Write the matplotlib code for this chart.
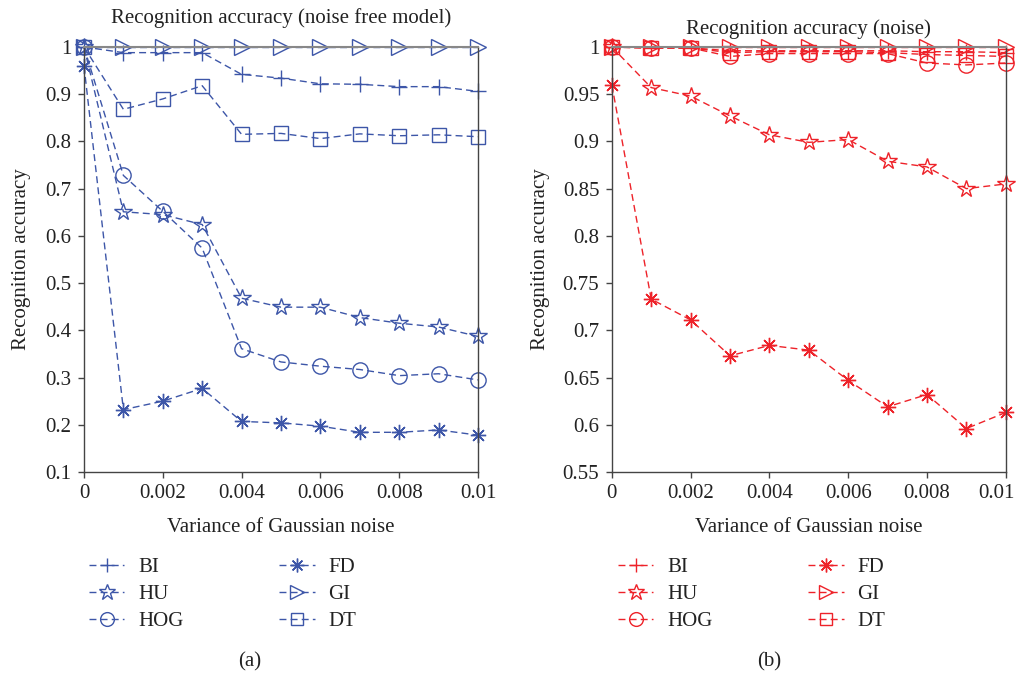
import matplotlib
matplotlib.use("Agg")
import matplotlib.pyplot as plt
import matplotlib.transforms as mtransforms
from matplotlib.lines import Line2D

plt.rcParams['font.family'] = ['Liberation Serif', 'DejaVu Serif']

# Noise variance levels
variance = [0, 0.001, 0.002, 0.003, 0.004, 0.005, 0.006, 0.007, 0.008, 0.009, 0.01]
methods = ["BI", "HU", "HOG", "FD", "GI", "DT"]

# (a) noise-free model
acc_free = {
    "BI":  [1.0, 0.988, 0.988, 0.988, 0.942, 0.934, 0.922, 0.921, 0.916, 0.916, 0.906],
    "HU":  [1.0, 0.651, 0.645, 0.624, 0.468, 0.449, 0.449, 0.427, 0.415, 0.407, 0.387],
    "HOG": [1.0, 0.728, 0.652, 0.574, 0.361, 0.333, 0.324, 0.317, 0.304, 0.308, 0.295],
    "FD":  [0.96, 0.232, 0.250, 0.277, 0.207, 0.204, 0.197, 0.184, 0.184, 0.189, 0.178],
    "GI":  [1.0, 1.0, 1.0, 1.0, 1.0, 1.0, 1.0, 1.0, 1.0, 1.0, 1.0],
    "DT":  [1.0, 0.868, 0.890, 0.918, 0.815, 0.817, 0.806, 0.816, 0.812, 0.814, 0.810],
}

# (b) model trained with noise
acc_noise = {
    "BI":  [1.0, 0.999, 0.999, 0.996, 0.996, 0.996, 0.996, 0.996, 0.995, 0.995, 0.994],
    "HU":  [1.0, 0.957, 0.948, 0.927, 0.907, 0.899, 0.902, 0.879, 0.873, 0.850, 0.855],
    "HOG": [1.0, 0.999, 0.999, 0.990, 0.993, 0.993, 0.993, 0.993, 0.983, 0.981, 0.983],
    "FD":  [0.96, 0.733, 0.711, 0.673, 0.684, 0.679, 0.647, 0.619, 0.632, 0.596, 0.613],
    "GI":  [1.0, 1.0, 1.0, 1.0, 1.0, 1.0, 1.0, 1.0, 1.0, 1.0, 1.0],
    "DT":  [1.0, 0.999, 0.999, 0.994, 0.995, 0.995, 0.995, 0.994, 0.992, 0.991, 0.990],
}

x_ticks = [0, 0.002, 0.004, 0.006, 0.008, 0.01]
x_ticklabels = ["0", "0.002", "0.004", "0.006", "0.008", "0.01"]
y_ticks_a = [0.1, 0.2, 0.3, 0.4, 0.5, 0.6, 0.7, 0.8, 0.9, 1.0]
y_ticklabels_a = ["0.1", "0.2", "0.3", "0.4", "0.5", "0.6", "0.7", "0.8", "0.9", "1"]
y_ticks_b = [0.55, 0.6, 0.65, 0.7, 0.75, 0.8, 0.85, 0.9, 0.95, 1.0]
y_ticklabels_b = ["0.55", "0.6", "0.65", "0.7", "0.75", "0.8", "0.85", "0.9", "0.95", "1"]

markers = {"BI": "+", "HU": "*", "HOG": "o", "FD": (8, 2, 0), "GI": ">", "DT": "s"}
msizes = {"BI": 11, "HU": 13, "HOG": 11, "FD": 11, "GI": 11, "DT": 9.5}

BLUE = "#3D56A8"
RED = "#EE2229"
SPINE = "#444444"
TEXT = "#222222"
FS = 15
DASH = (0, (5, 3))

fig = plt.figure(figsize=(10.18, 6.73), dpi=100)
ax_a = fig.add_axes([0.0825, 0.2987, 0.387, 0.6315])
ax_b = fig.add_axes([0.601, 0.2987, 0.387, 0.6315])


def draw_panel(ax, data, color, yticks, yticklabels, ylim, title, title_y, ylabel_x):
    for m in methods:
        ax.plot(variance, data[m], linestyle=DASH, linewidth=1.0, color=color,
                marker=markers[m], markersize=msizes[m], markerfacecolor="none",
                markeredgecolor=color, markeredgewidth=1.0, clip_on=False)
    ax.set_xlim(0, 0.01)
    ax.set_ylim(*ylim)
    ax.set_xticks(x_ticks)
    ax.set_xticklabels(x_ticklabels)
    ax.set_yticks(yticks)
    ax.set_yticklabels(yticklabels)
    ax.tick_params(direction="out", length=4, width=1, colors=SPINE, labelcolor=TEXT,
                   labelsize=FS, pad=5)
    for s in ("left", "bottom", "right"):
        ax.spines[s].set_color(SPINE)
        ax.spines[s].set_linewidth(1.0)
    ax.spines["top"].set_color("#888888")
    ax.spines["top"].set_linewidth(1.5)
    ax.set_xlabel("Variance of Gaussian noise", fontsize=FS, color=TEXT)
    ax.xaxis.set_label_coords(0.5, -0.108)
    ax.set_ylabel("Recognition accuracy", fontsize=FS, color=TEXT)
    ax.yaxis.set_label_coords(ylabel_x, 0.5)
    ax.text(0.5, title_y, title, transform=ax.transAxes, ha="center", va="center",
            fontsize=FS, color=TEXT)


draw_panel(ax_a, acc_free, BLUE, y_ticks_a, y_ticklabels_a, (0.1, 1.0),
           "Recognition accuracy (noise free model)", 1.067, -0.135)
draw_panel(ax_b, acc_noise, RED, y_ticks_b, y_ticklabels_b, (0.55, 1.0),
           "Recognition accuracy (noise)", 1.043, -0.158)

# keep the last x tick label of panel (b) inside the figure
last = ax_b.get_xticklabels()[-1]
last.set_transform(last.get_transform() +
                   mtransforms.ScaledTranslation(-9 / 100, 0, fig.dpi_scale_trans))


def add_legend(color, x_left, caption_x, caption):
    handles = [Line2D([], [], linestyle=DASH, linewidth=1.0, color=color,
                      marker=markers[m], markersize=msizes[m] * 0.9, markerfacecolor="none",
                      markeredgecolor=color)
               for m in methods]
    fig.legend(handles, methods, loc="upper left", bbox_to_anchor=(x_left, 0.172), ncol=2,
               frameon=False, fontsize=FS, handlelength=1.7, columnspacing=4.6,
               labelspacing=0.36, handletextpad=0.65, borderpad=0, borderaxespad=0,
               labelcolor=TEXT)
    fig.text(caption_x, 0.017, caption, ha="center", va="center", fontsize=FS, color=TEXT)


add_legend(BLUE, 0.0874, 0.2456, "(a)")
add_legend(RED, 0.607, 0.7554, "(b)")

fig.savefig("out.png", dpi=100)
